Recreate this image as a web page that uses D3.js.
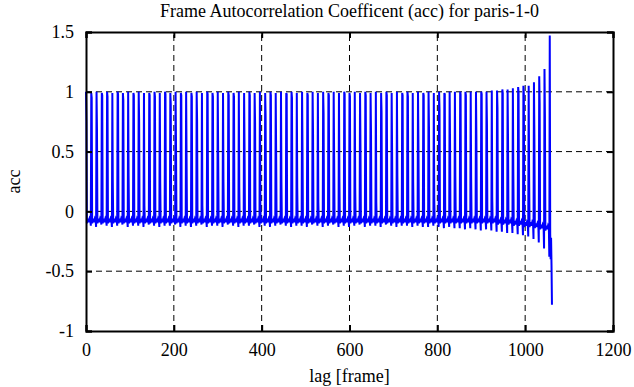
<!DOCTYPE html>
<html lang="en">
<head>
  <meta charset="UTF-8" />
  <title>Frame Autocorrelation Coefficent (acc) for paris-1-0</title>
  <script src="https://d3js.org/d3.v7.min.js"></script>
  <style>
    body { margin: 0; padding: 0; background: #fff; }
  </style>
</head>
<body>
<div id="chart"></div>
<script>
  // ---------------- data ----------------
  const xTicks = [0, 200, 400, 600, 800, 1000, 1200];
  const yTicks = [-1, -0.5, 0, 0.5, 1, 1.5];

  const PERIOD = 12; // frames between main peaks

  // main peak height for each period (lag = 12 * n)
  const peakAcc = [
    1.00, 0.99, 1.00, 0.99, 1.00, 0.99, 1.00, 0.99, 1.00, 0.99,
    1.00, 0.99, 0.99, 1.00, 0.99, 1.00, 0.99, 1.00, 0.99, 1.00,
    0.99, 1.00, 0.99, 1.00, 0.99, 1.00, 0.99, 1.00, 0.99, 1.00,
    0.99, 1.00, 0.99, 1.00, 0.99, 1.00, 0.99, 1.00, 0.99, 1.00,
    0.99, 1.00, 0.99, 1.00, 0.99, 1.00, 0.99, 1.00, 0.99, 1.00,
    0.99, 1.00, 0.99, 1.00, 0.99, 1.00, 0.99, 1.00, 0.99, 1.00,
    0.99, 1.00, 0.99, 1.00, 0.99, 1.00, 0.99, 1.00, 0.99, 1.00,
    1.00, 1.00, 1.00, 1.00, 1.00, 1.00, 1.00, 1.01, 1.01, 1.02,
    1.02, 1.03, 1.04, 1.05, 1.05, 1.08, 1.13, 1.19, 1.47
  ];

  // value just after each peak (lag = 12n + 1)
  const sideAcc = [
    0.75, 0.95, 0.68, 0.97, 0.96, 0.25, 0.98, 0.93, 0.30, 0.97, 0.75,
    0.05, 0.97, 0.96, 0.25, 0.98, 0.90, 0.53, 0.97, 0.45, 0.96, 0.75,
    0.05, 0.98, 0.96, 0.47, 0.25, 0.97, 0.96, 0.20, 0.53, 0.97, 0.74,
    0.05, 0.80, 0.97, 0.47, 0.25, 0.98, 0.95, 0.20, 0.53, 0.97, 0.64,
    0.08, 0.82, 0.97, 0.47, 0.27, 0.98, 0.96, 0.20, 0.53, 0.97, 0.65,
    0.08, 0.83, 0.97, 0.50, 0.30, 0.97, 0.96, 0.25, 0.55, 0.97, 0.70,
    0.10, 0.85, 0.98, 0.55, 0.30, 0.98, 0.97, 0.28, 0.60, 0.98, 0.72,
    0.12, 0.86, 0.99, 0.58, 0.35, 0.99, 0.98, 0.30, 0.62, 0.90, 0.80,
    -0.15
  ];

  // level of the floor between peaks
  const baseAcc = [
    -0.08, -0.08, -0.08, -0.08, -0.08, -0.08, -0.08, -0.08, -0.08, -0.08,
    -0.08, -0.08, -0.08, -0.08, -0.08, -0.08, -0.08, -0.08, -0.08, -0.08,
    -0.08, -0.08, -0.08, -0.08, -0.08, -0.08, -0.08, -0.08, -0.08, -0.08,
    -0.08, -0.08, -0.08, -0.08, -0.08, -0.08, -0.08, -0.08, -0.08, -0.08,
    -0.08, -0.08, -0.08, -0.08, -0.08, -0.08, -0.08, -0.08, -0.08, -0.08,
    -0.08, -0.08, -0.08, -0.08, -0.08, -0.08, -0.08, -0.08, -0.08, -0.08,
    -0.08, -0.08, -0.08, -0.08, -0.08, -0.08, -0.08, -0.08, -0.08, -0.08,
    -0.08, -0.08, -0.08, -0.08, -0.08, -0.08, -0.08, -0.08, -0.09, -0.09,
    -0.09, -0.10, -0.10, -0.11, -0.11, -0.12, -0.13, -0.14
  ];

  // deepest point just before the next peak
  const troughAcc = [
    -0.12, -0.13, -0.11, -0.12, -0.13, -0.12, -0.11, -0.13, -0.12, -0.12,
    -0.13, -0.11, -0.12, -0.13, -0.12, -0.12, -0.11, -0.13, -0.12, -0.13,
    -0.12, -0.11, -0.13, -0.12, -0.12, -0.13, -0.11, -0.12, -0.13, -0.12,
    -0.12, -0.11, -0.13, -0.12, -0.13, -0.12, -0.11, -0.12, -0.13, -0.12,
    -0.12, -0.13, -0.11, -0.12, -0.13, -0.12, -0.11, -0.13, -0.12, -0.13,
    -0.12, -0.11, -0.13, -0.12, -0.12, -0.13, -0.11, -0.12, -0.13, -0.12,
    -0.12, -0.13, -0.12, -0.13, -0.13, -0.12, -0.13, -0.14, -0.13, -0.14,
    -0.14, -0.15, -0.14, -0.15, -0.16, -0.15, -0.16, -0.17, -0.17, -0.18,
    -0.18, -0.19, -0.20, -0.21, -0.23, -0.26, -0.31, -0.38
  ];

  // the last few frames after the final peak
  const tailLag = [1057, 1058, 1059, 1060, 1061];
  const tailAcc = [-0.18, -0.40, -0.22, -0.45, -0.78];

  // floor wiggle inside one period: [lag offset, offset from floor]
  const floorShape = [[2, -0.02], [4, 0.02], [6, -0.01], [8, 0.02], [10, 0]];

  // ---------------- build the polyline ----------------
  const series = [];
  peakAcc.forEach((p, n) => {
    const L = n * PERIOD;
    series.push([L, p]);
    series.push([L + 1, sideAcc[n]]);
    if (n < baseAcc.length) {
      floorShape.forEach(([o, d]) => series.push([L + o, baseAcc[n] + d]));
      series.push([L + 11, troughAcc[n]]);
    }
  });
  tailLag.forEach((l, i) => series.push([l, tailAcc[i]]));

  // ---------------- layout ----------------
  const width = 634, height = 387;
  const margin = { left: 86, right: 21, top: 32, bottom: 56 };
  const serif = "'Liberation Serif', 'DejaVu Serif', serif";

  const x = d3.scaleLinear().domain([0, 1200]).range([margin.left, width - margin.right]);
  const y = d3.scaleLinear().domain([-1, 1.5]).range([height - margin.bottom, margin.top]);

  const svg = d3.select("#chart").append("svg")
    .attr("width", width)
    .attr("height", height);

  // dashed grid
  svg.append("g")
    .selectAll("line")
    .data(xTicks.slice(1, -1))
    .join("line")
    .attr("x1", d => x(d)).attr("x2", d => x(d))
    .attr("y1", y(-1)).attr("y2", y(1.5))
    .attr("stroke", "#000").attr("stroke-width", 1)
    .attr("stroke-dasharray", "6,4");

  svg.append("g")
    .selectAll("line")
    .data(yTicks.slice(1, -1))
    .join("line")
    .attr("x1", x(0)).attr("x2", x(1200))
    .attr("y1", d => y(d)).attr("y2", d => y(d))
    .attr("stroke", "#000").attr("stroke-width", 1)
    .attr("stroke-dasharray", "6,4");

  // data line
  const line = d3.line().x(d => x(d[0])).y(d => y(d[1]));
  svg.append("path")
    .datum(series)
    .attr("fill", "none")
    .attr("stroke", "#0000ff")
    .attr("stroke-width", 2)
    .attr("stroke-linejoin", "miter")
    .attr("d", line);

  // axes with inward ticks on all four sides
  const tickLen = 6;
  const fmt = d => String(d);
  const axes = [
    svg.append("g").attr("transform", `translate(0,${y(-1)})`)
      .call(d3.axisBottom(x).tickValues(xTicks).tickSize(-tickLen).tickPadding(12).tickFormat(fmt)),
    svg.append("g").attr("transform", `translate(0,${y(1.5)})`)
      .call(d3.axisTop(x).tickValues(xTicks).tickSize(-tickLen).tickFormat("")),
    svg.append("g").attr("transform", `translate(${x(0)},0)`)
      .call(d3.axisLeft(y).tickValues(yTicks).tickSize(-tickLen).tickPadding(12).tickFormat(fmt)),
    svg.append("g").attr("transform", `translate(${x(1200)},0)`)
      .call(d3.axisRight(y).tickValues(yTicks).tickSize(-tickLen).tickFormat(""))
  ];
  axes.forEach(g => g.attr("font-family", serif).attr("font-size", 18));

  svg.selectAll(".domain").attr("stroke", "#000").attr("stroke-width", 2);
  svg.selectAll(".tick line").attr("stroke", "#000").attr("stroke-width", 2);
  svg.selectAll(".tick text")
    .style("font-family", serif)
    .style("font-size", "18px")
    .attr("fill", "#000");

  // titles
  const label = (tx, ty, txt, rot) => svg.append("text")
    .attr("transform", `translate(${tx},${ty})` + (rot ? ` rotate(${rot})` : ""))
    .attr("text-anchor", "middle")
    .style("font-family", serif)
    .style("font-size", "18px")
    .text(txt);

  label(x(600), 17, "Frame Autocorrelation Coefficent (acc) for paris-1-0");
  label(x(600), 382, "lag [frame]");
  label(20, y(0.25), "acc", -90);
</script>
</body>
</html>
